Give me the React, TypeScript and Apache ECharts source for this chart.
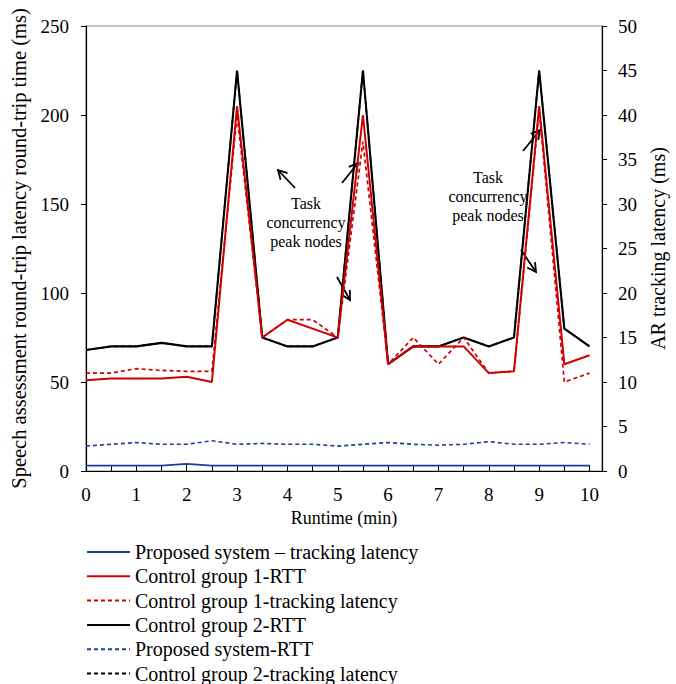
import React, { useEffect, useRef } from "react";
import * as echarts from "echarts";

const runtime = [0, 0.5, 1, 1.5, 2, 2.5, 3, 3.5, 4, 4.5, 5, 5.5, 6, 6.5, 7, 7.5, 8, 8.5, 9, 9.5, 10];
// left axis (ms)
const proposedRTT = [14, 15, 16, 15, 15, 17, 15, 15.5, 15, 15, 14, 15, 16, 15, 14.5, 15, 16.5, 15, 15, 16, 15];
const cg1RTT = [51, 52, 52, 52, 53, 50, 205, 75, 85, 80, 75, 200, 60, 70, 70, 70, 55, 56, 205, 60, 65];
const cg2RTT = [68, 70, 70, 72, 70, 70, 225, 75, 70, 70, 75, 225, 60, 70, 70, 75, 70, 75, 225, 80, 70];
// right axis (ms)
const proposedTracking = [0.6, 0.6, 0.6, 0.6, 0.8, 0.6, 0.6, 0.6, 0.6, 0.6, 0.6, 0.6, 0.6, 0.6, 0.6, 0.6, 0.6, 0.6, 0.6, 0.6, 0.6];
const cg1Tracking = [11, 11, 11.5, 11.3, 11.2, 11.2, 40, 15, 17, 17, 15, 37, 12, 15, 12, 15, 11, 11.2, 40.6, 10, 11];
const cg2Tracking = [13.6, 14, 14, 14.4, 14, 14, 45, 15, 14, 14, 15, 45, 12, 14, 14, 15, 14, 15, 45, 16, 14];

const leftTicks = [0, 250, 50];
const rightTicks = [0, 50, 5];

const FONT = "'Liberation Serif', 'Times New Roman', serif";
const BLUE = "#1f3c9e";
const RED = "#d00000";

const names = [
  "Proposed system – tracking latency",
  "Control group 1-RTT",
  "Control group 1-tracking latency",
  "Control group 2-RTT",
  "Proposed system-RTT",
  "Control group 2-tracking latency",
];

const pairs = (ys: number[]) => runtime.map((x, i) => [x, ys[i]]);

function arrow(x1: number, y1: number, x2: number, y2: number) {
  const a = Math.atan2(y2 - y1, x2 - x1);
  const L = 10;
  const s = 0.5;
  const p1 = [x2 - L * Math.cos(a - s), y2 - L * Math.sin(a - s)];
  const p2 = [x2 - L * Math.cos(a + s), y2 - L * Math.sin(a + s)];
  const st = { stroke: "#000", lineWidth: 1.8, fill: null };
  return [
    { type: "line", shape: { x1, y1, x2, y2 }, style: st, silent: true },
    { type: "polyline", shape: { points: [p1, [x2, y2], p2] }, style: st, silent: true },
  ];
}

export default function App() {
  const ref = useRef<HTMLDivElement>(null);
  useEffect(() => {
    const chart = echarts.init(ref.current!, null, { renderer: "svg" });
    const textStyle = { fontFamily: FONT, fontSize: 16, fill: "#000" };
    chart.setOption({
      animation: false,
      backgroundColor: "#fff",
      textStyle: { fontFamily: FONT, color: "#000" },
      grid: {
        left: 86,
        right: 64,
        top: 26,
        bottom: 213,
        show: true,
        borderColor: "#8a8a8a",
        borderWidth: 1.2,
      },
      legend: {
        orient: "vertical",
        left: 86,
        top: 542,
        height: 160,
        padding: 0,
        itemWidth: 43,
        itemHeight: 14,
        itemGap: 4.3,
        itemStyle: { opacity: 0 },
        data: names,
        textStyle: { fontFamily: FONT, fontSize: 20, color: "#000", lineHeight: 20 },
      },
      xAxis: {
        type: "value",
        min: 0,
        max: 10.25,
        interval: 0.5,
        name: "Runtime (min)",
        nameLocation: "middle",
        nameGap: 38,
        nameTextStyle: { fontFamily: FONT, fontSize: 18, color: "#000" },
        splitLine: { show: false },
        axisLine: { lineStyle: { color: "#000", width: 1.2 } },
        axisTick: { inside: true, length: 6, lineStyle: { color: "#000" } },
        axisLabel: {
          fontFamily: FONT,
          fontSize: 19,
          color: "#000",
          margin: 14,
          formatter: (v: number) => (Number.isInteger(v) ? String(v) : ""),
        },
      },
      yAxis: [
        {
          type: "value",
          min: leftTicks[0],
          max: leftTicks[1],
          interval: leftTicks[2],
          position: "left",
          name: "Speech assessment round-trip latency round-trip time (ms)",
          nameLocation: "middle",
          nameRotate: 90,
          nameGap: 52,
          nameTextStyle: { fontFamily: FONT, fontSize: 20.5, color: "#000" },
          splitLine: { show: false },
          axisLine: { show: true, lineStyle: { color: "#000", width: 1.2 } },
          axisTick: { show: true, length: 5, lineStyle: { color: "#000" } },
          axisLabel: { fontFamily: FONT, fontSize: 19, color: "#000", margin: 17 },
        },
        {
          type: "value",
          min: rightTicks[0],
          max: rightTicks[1],
          interval: rightTicks[2],
          position: "right",
          name: "AR tracking latency (ms)",
          nameLocation: "middle",
          nameRotate: 90,
          nameGap: 39,
          nameTextStyle: { fontFamily: FONT, fontSize: 20, color: "#000" },
          splitLine: { show: false },
          axisLine: { show: true, lineStyle: { color: "#000", width: 1.2 } },
          axisTick: { show: true, length: 5, lineStyle: { color: "#000" } },
          axisLabel: { fontFamily: FONT, fontSize: 19, color: "#000", margin: 16 },
        },
      ],
      series: [
        {
          name: names[5], type: "line", yAxisIndex: 1, data: pairs(cg2Tracking), symbol: "none",
          lineStyle: { color: "#000", width: 1.6, type: [4, 3] }, itemStyle: { color: "#000" },
        },
        {
          name: names[0], type: "line", yAxisIndex: 1, data: pairs(proposedTracking), symbol: "none",
          lineStyle: { color: BLUE, width: 1.8 }, itemStyle: { color: BLUE },
        },
        {
          name: names[4], type: "line", yAxisIndex: 0, data: pairs(proposedRTT), symbol: "none",
          lineStyle: { color: BLUE, width: 1.6, type: [4, 3] }, itemStyle: { color: BLUE },
        },
        {
          name: names[3], type: "line", yAxisIndex: 0, data: pairs(cg2RTT), symbol: "none",
          lineStyle: { color: "#000", width: 2.1 }, itemStyle: { color: "#000" },
        },
        {
          name: names[1], type: "line", yAxisIndex: 0, data: pairs(cg1RTT), symbol: "none",
          lineStyle: { color: RED, width: 2 }, itemStyle: { color: RED },
        },
        {
          name: names[2], type: "line", yAxisIndex: 1, data: pairs(cg1Tracking), symbol: "none",
          lineStyle: { color: RED, width: 1.7, type: [4, 3] }, itemStyle: { color: RED },
        },
      ],
      graphic: [
        {
          type: "text", x: 306, y: 194, silent: true,
          style: { ...textStyle, text: "Task\nconcurrency\npeak nodes", textAlign: "center", lineHeight: 19 },
        },
        {
          type: "text", x: 488, y: 168, silent: true,
          style: { ...textStyle, text: "Task\nconcurrency\npeak nodes", textAlign: "center", lineHeight: 19 },
        },
        ...arrow(295, 188, 278, 170),
        ...arrow(342, 183, 358, 163),
        ...arrow(337, 277, 350, 300),
        ...arrow(523, 151, 540, 130),
        ...arrow(521, 250, 536, 272),
      ],
    });
    return () => chart.dispose();
  }, []);
  return <div ref={ref} style={{ width: 676, height: 684, position: "absolute", left: 0, top: 0 }} />;
}
